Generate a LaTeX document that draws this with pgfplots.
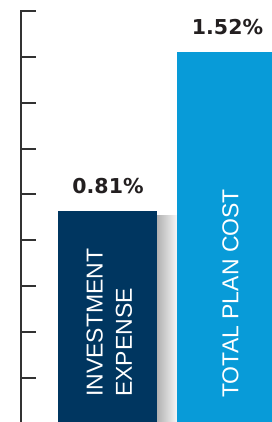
\documentclass[border=0pt]{standalone}
\usepackage{pgfplots}
\pgfplotsset{compat=1.18}
\usepackage{fontspec}
\setmainfont{Liberation Sans}
\newfontfamily\valfont{DejaVu Sans}
\definecolor{navy}{RGB}{0,54,96}
\definecolor{sky}{RGB}{8,155,216}
\definecolor{axisgray}{RGB}{50,50,50}
\definecolor{labelgray}{RGB}{35,31,32}
\begin{document}
\begin{tikzpicture}
\useasboundingbox (0,0) rectangle (272pt,422pt);
\clip (0,0) rectangle (272pt,422pt);
\begin{axis}[
  at={(21pt,0pt)}, anchor=south west,
  scale only axis, width=251pt, height=412pt,
  xmin=0.2762, xmax=2.3766, ymin=0.0436, ymax=9.0196,
  axis x line=none, axis y line*=left,
  y axis line style={line width=2pt, axisgray},
  xtick=\empty, ytick={1,...,9}, yticklabels={},
  tick align=inside, major tick length=15pt,
  major tick style={line width=2pt, axisgray},
  y filter/.expression={4.879*y+0.689},
  ybar, bar width=99.5pt,
  valstyle/.style={
    point meta=explicit,
    nodes near coords={\pgfmathprintnumber[fixed,fixed zerofill,precision=2,assume math mode=true]{\pgfplotspointmeta}\%},
    every node near coord/.append style={font=\valfont\bfseries\fontsize{20.5}{24}\selectfont, text=labelgray, anchor=base, yshift=17.7pt, inner sep=0pt, xshift=0.5pt},
  },
]
% soft shadow to the right of the first bar
\addplot[ybar, bar width=20pt, bar shift=59.75pt, draw=none, left color=black!30, right color=black!3] coordinates {(1,0.79)};
% bars
\addplot[ybar, bar shift=0pt, fill=navy, draw=none, valstyle] coordinates {(1,0.81) [0.81]};
\addplot[ybar, bar shift=0pt, fill=sky, draw=none, valstyle] coordinates {(2,1.52) [1.52]};
\node[rotate=90, anchor=west, inner sep=0pt, text=white, align=left, font=\fontsize{23}{29.4}\selectfont] at (rel axis cs:0.3518,0.0607) {INVESTMENT\\EXPENSE};
\node[rotate=90, anchor=west, inner sep=0pt, text=white, font=\fontsize{23}{29.4}\selectfont] at (rel axis cs:0.8347,0.0583) {TOTAL PLAN COST};
\end{axis}
\end{tikzpicture}
\end{document}
